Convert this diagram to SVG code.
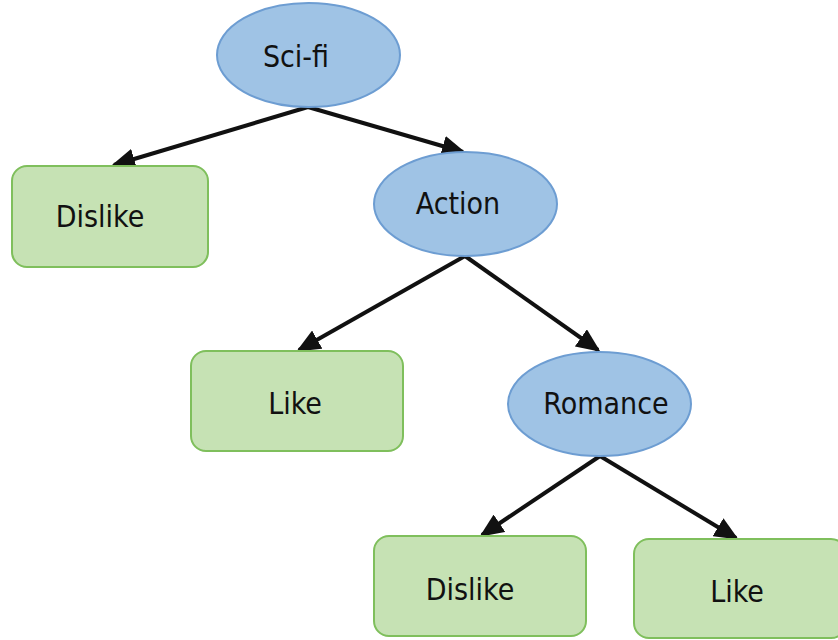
<svg xmlns="http://www.w3.org/2000/svg" width="838" height="640" viewBox="0 0 838 640">
<style>
.dec{fill:#9fc3e5;stroke:#6d9dd2;stroke-width:2}
.leaf{fill:#c6e2b4;stroke:#7fbf5c;stroke-width:2}
text{font-family:"DejaVu Sans Condensed","DejaVu Sans",Verdana,sans-serif;font-stretch:condensed;font-size:30px;fill:#111;text-anchor:middle}
.edge{stroke:#111;stroke-width:4;fill:none;marker-end:url(#ah)}
</style>
<defs>
<marker id="ah" markerWidth="24" markerHeight="21" refX="21" refY="10.5" orient="auto" markerUnits="userSpaceOnUse">
<path d="M0,0 L24,10.5 L0,21 Z" fill="#111"/>
</marker>
</defs>
<rect width="838" height="640" fill="#fff"/>
<g id="connectors">
<line class="edge" x1="308" y1="107" x2="114" y2="165"/>
<line class="edge" x1="308" y1="107" x2="463" y2="152"/>
<line class="edge" x1="465" y1="256" x2="299" y2="350"/>
<line class="edge" x1="465" y1="256" x2="598" y2="350"/>
<line class="edge" x1="600" y1="456" x2="482" y2="535"/>
<line class="edge" x1="600" y1="456" x2="736" y2="538"/>
</g>
<g id="scifi"><ellipse class="dec" cx="308.5" cy="55" rx="91.5" ry="52"/><text x="296" y="67">Sci-fi</text></g>
<g id="dislike1"><rect class="leaf" x="12" y="166" width="196" height="101" rx="15"/><text x="100" y="227">Dislike</text></g>
<g id="action"><ellipse class="dec" cx="465.5" cy="204" rx="91.5" ry="52"/><text x="458" y="214">Action</text></g>
<g id="like1"><rect class="leaf" x="191" y="351" width="212" height="100" rx="15"/><text x="295" y="414">Like</text></g>
<g id="romance"><ellipse class="dec" cx="599.5" cy="404" rx="91.5" ry="52"/><text x="606" y="414">Romance</text></g>
<g id="dislike2"><rect class="leaf" x="374" y="536" width="212" height="100" rx="15"/><text x="470" y="600">Dislike</text></g>
<g id="like2"><rect class="leaf" x="634" y="539" width="212" height="99" rx="15"/><text x="737" y="602">Like</text></g>
</svg>
